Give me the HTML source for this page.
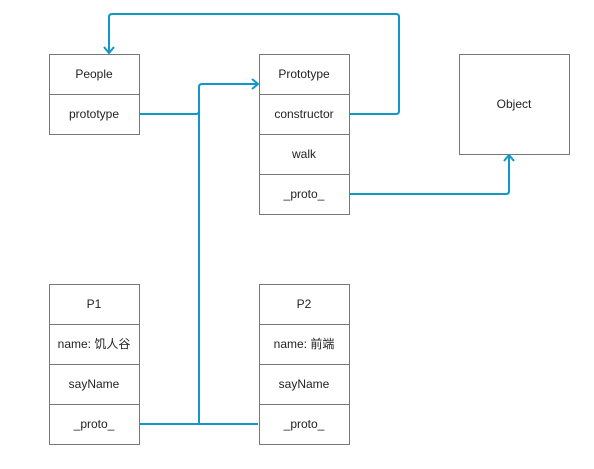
<!DOCTYPE html>
<html><head><style>
body{margin:0;width:594px;height:469px;background:#fff;overflow:hidden}
svg{display:block}
text{font-family:"Liberation Sans","Noto Sans CJK SC",sans-serif;font-size:12px;fill:#222;text-anchor:middle;dominant-baseline:central}
rect{fill:#fff;stroke:#777;stroke-width:1}
.l{fill:none;stroke:#1197c9;stroke-width:2;stroke-linejoin:round}
</style></head><body>
<svg width="594" height="469">
<g>
<rect x="49.5" y="54.5" width="90" height="40"/><text x="94" y="74">People</text>
<rect x="49.5" y="94.5" width="90" height="40"/><text x="94" y="114">prototype</text>

<rect x="259.5" y="54.5" width="90" height="40"/><text x="304" y="74">Prototype</text>
<rect x="259.5" y="94.5" width="90" height="40"/><text x="304" y="114">constructor</text>
<rect x="259.5" y="134.5" width="90" height="40"/><text x="304" y="154">walk</text>
<rect x="259.5" y="174.5" width="90" height="40"/><text x="304" y="194">_proto_</text>

<rect x="459.5" y="54.5" width="110" height="100"/><text x="514" y="104">Object</text>

<rect x="49.5" y="284.5" width="90" height="40"/><text x="94" y="304">P1</text>
<rect x="49.5" y="324.5" width="90" height="40"/><text x="94" y="344">name: 饥人谷</text>
<rect x="49.5" y="364.5" width="90" height="40"/><text x="94" y="384">sayName</text>
<rect x="49.5" y="404.5" width="90" height="40"/><text x="94" y="424">_proto_</text>

<rect x="259.5" y="284.5" width="90" height="40"/><text x="304" y="304">P2</text>
<rect x="259.5" y="324.5" width="90" height="40"/><text x="304" y="344">name: 前端</text>
<rect x="259.5" y="364.5" width="90" height="40"/><text x="304" y="384">sayName</text>
<rect x="259.5" y="404.5" width="90" height="40"/><text x="304" y="424">_proto_</text>
</g>
<path class="l" d="M350 114 H396 Q399 114 399 111 V17 Q399 14 396 14 H112 Q109 14 109 17 V53"/>
<path class="l" d="M104 47 L109 53 L114 47"/>
<path class="l" d="M140 114 H196 Q199 114 199 111"/>
<path class="l" d="M140 424 H258"/>
<path class="l" d="M199 424 V87 Q199 84 202 84 H258"/>
<path class="l" d="M252 79 L258 84 L252 89"/>
<path class="l" d="M350 194 H506 Q509 194 509 191 V155"/>
<path class="l" d="M504 161 L509 155 L514 161"/>
</svg>
</body></html>
